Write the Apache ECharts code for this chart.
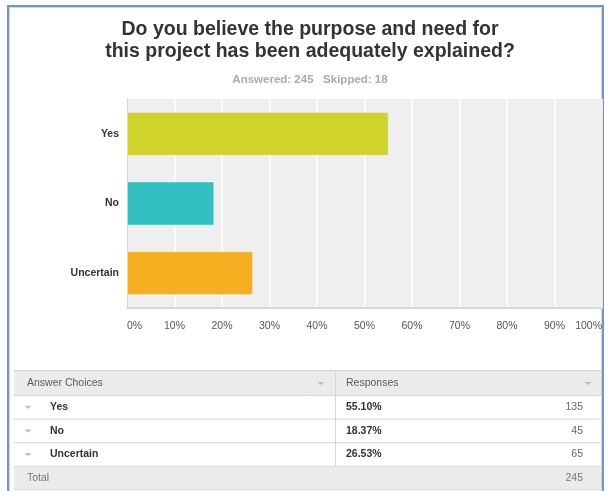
<!DOCTYPE html>
<html>
<head>
<meta charset="utf-8">
<style>
html,body{margin:0;padding:0;background:#fff;}
#chart{width:605px;height:491px;}
</style>
<script src="https://cdn.jsdelivr.net/npm/echarts@6/dist/echarts.min.js"></script>
</head>
<body>
<div id="chart"></div>
<script>
// ---- data ----
var titleLines = ['Do you believe the purpose and need for', 'this project has been adequately explained?'];
var answered = 245;
var skipped = 18;
var categories = ['Yes', 'No', 'Uncertain'];
var percents = [55.10, 18.37, 26.53];
var counts = [135, 45, 65];
var barColors = ['#d0d42a', '#33bec0', '#f7af21'];
var xTicks = [0, 10, 20, 30, 40, 50, 60, 70, 80, 90, 100];
var tableHeaders = ['Answer Choices', 'Responses'];
var totalLabel = 'Total';

var FONT = 'Liberation Sans, Arial, Helvetica, sans-serif';
var chart = echarts.init(document.getElementById('chart'), null, {renderer: 'canvas'});

// ---- table built from the arrays ----
var T = {left: 14, right: 601, mid: 335, headTop: 370, headH: 25, rowH: 23.6};
var g = [];
function tri(cx, cy) {
  return {type: 'polygon', shape: {points: [[cx - 3.5, cy - 1.5], [cx + 3.5, cy - 1.5], [cx, cy + 1.5]]},
          style: {fill: '#bdbdbd'}, silent: true};
}
function hline(y, c) {
  return {type: 'line', shape: {x1: T.left, y1: y, x2: T.right, y2: y}, style: {stroke: c || '#d6d6d6', lineWidth: 1}, silent: true};
}
// frame
g.push({type: 'polyline', shape: {points: [[8, 491], [8, 6], [603, 6], [603, 491]]},
        style: {stroke: '#6f96d6', lineWidth: 2, fill: null}, silent: true});
g.push({type: 'polyline', shape: {points: [[9.5, 491], [9.5, 7.5], [601.5, 7.5], [601.5, 491]]},
        style: {stroke: '#c9d9f2', lineWidth: 1, fill: null}, silent: true});
// header
g.push({type: 'rect', shape: {x: T.left, y: T.headTop, width: T.right - T.left, height: T.headH}, style: {fill: '#ebebeb'}, silent: true});
g.push(hline(T.headTop + 0.5, '#cfcfcf'));
g.push({type: 'text', style: {x: 27, y: T.headTop + T.headH / 2 + 1, text: tableHeaders[0], fill: '#5a5a5a', font: '10.5px ' + FONT, textVerticalAlign: 'middle'}, silent: true});
g.push({type: 'text', style: {x: 346, y: T.headTop + T.headH / 2 + 1, text: tableHeaders[1], fill: '#5a5a5a', font: '10.5px ' + FONT, textVerticalAlign: 'middle'}, silent: true});
g.push(tri(321, T.headTop + T.headH / 2 + 1));
g.push(tri(588, T.headTop + T.headH / 2 + 1));
var y0 = T.headTop + T.headH;
g.push(hline(y0 + 0.5));
for (var i = 0; i < categories.length; i++) {
  var cy = y0 + T.rowH * i + T.rowH / 2 + 0.5;
  g.push(tri(28, cy));
  g.push({type: 'text', style: {x: 50, y: cy, text: categories[i], fill: '#333', font: 'bold 10.5px ' + FONT, textVerticalAlign: 'middle'}, silent: true});
  g.push({type: 'text', style: {x: 346, y: cy, text: percents[i].toFixed(2) + '%', fill: '#333', font: 'bold 10.5px ' + FONT, textVerticalAlign: 'middle'}, silent: true});
  g.push({type: 'text', style: {x: 583, y: cy, text: String(counts[i]), fill: '#666', font: '10.5px ' + FONT, textVerticalAlign: 'middle', textAlign: 'right'}, silent: true});
  g.push(hline(y0 + T.rowH * (i + 1) + 0.5));
}
var yTot = y0 + T.rowH * categories.length;
g.push({type: 'line', shape: {x1: T.mid + 0.5, y1: T.headTop, x2: T.mid + 0.5, y2: yTot}, style: {stroke: '#d6d6d6', lineWidth: 1}, silent: true});
g.push({type: 'rect', shape: {x: T.left, y: yTot + 1, width: T.right - T.left, height: T.rowH - 1}, style: {fill: '#ebebeb'}, silent: true});
var total = counts.reduce(function (a, b) { return a + b; }, 0);
g.push({type: 'text', style: {x: 27, y: yTot + T.rowH / 2 + 0.5, text: totalLabel, fill: '#777', font: '10.5px ' + FONT, textVerticalAlign: 'middle'}, silent: true});
g.push({type: 'text', style: {x: 583, y: yTot + T.rowH / 2 + 0.5, text: String(total), fill: '#777', font: '10.5px ' + FONT, textVerticalAlign: 'middle', textAlign: 'right'}, silent: true});
g.push(hline(yTot + T.rowH + 0.5));

var option = {
  animation: false,
  backgroundColor: '#ffffff',
  title: [
    {text: titleLines.join('\n'), left: 305, top: 14, textAlign: 'center',
     textStyle: {fontFamily: FONT, fontSize: 19.5, fontWeight: 'bold', color: '#333333', lineHeight: 22}},
    {text: 'Answered: ' + answered + '   Skipped: ' + skipped, left: 305, top: 69, textAlign: 'center',
     textStyle: {fontFamily: FONT, fontSize: 11.5, fontWeight: 'bold', color: '#aaaaaa'}}
  ],
  grid: {left: 127, top: 99, right: 3, bottom: 183, show: true, backgroundColor: '#efefef', borderWidth: 0, containLabel: false},
  xAxis: {
    type: 'value', min: xTicks[0], max: xTicks[xTicks.length - 1], interval: xTicks[1] - xTicks[0],
    axisLine: {show: true, lineStyle: {color: '#d9d9d9', width: 2}},
    axisTick: {show: false},
    splitLine: {show: true, lineStyle: {color: '#ffffff', width: 1.5}},
    axisLabel: {formatter: '{value}%', color: '#555', fontSize: 10.5, fontFamily: FONT, margin: 13,
                alignMinLabel: 'left', alignMaxLabel: 'right'}
  },
  yAxis: {
    type: 'category', data: categories, inverse: true,
    axisLine: {show: true, lineStyle: {color: '#d4d4d4', width: 1}},
    axisTick: {show: false},
    axisLabel: {color: '#333', fontSize: 10.5, fontWeight: 'bold', fontFamily: FONT, margin: 8}
  },
  series: [{
    type: 'bar',
    barCategoryGap: '37%',
    data: percents.map(function (v, i) {
      return {value: v, itemStyle: {color: barColors[i], borderColor: 'rgba(255,255,255,0.35)', borderWidth: 1}};
    })
  }],
  graphic: g
};
chart.setOption(option);
</script>
</body>
</html>
